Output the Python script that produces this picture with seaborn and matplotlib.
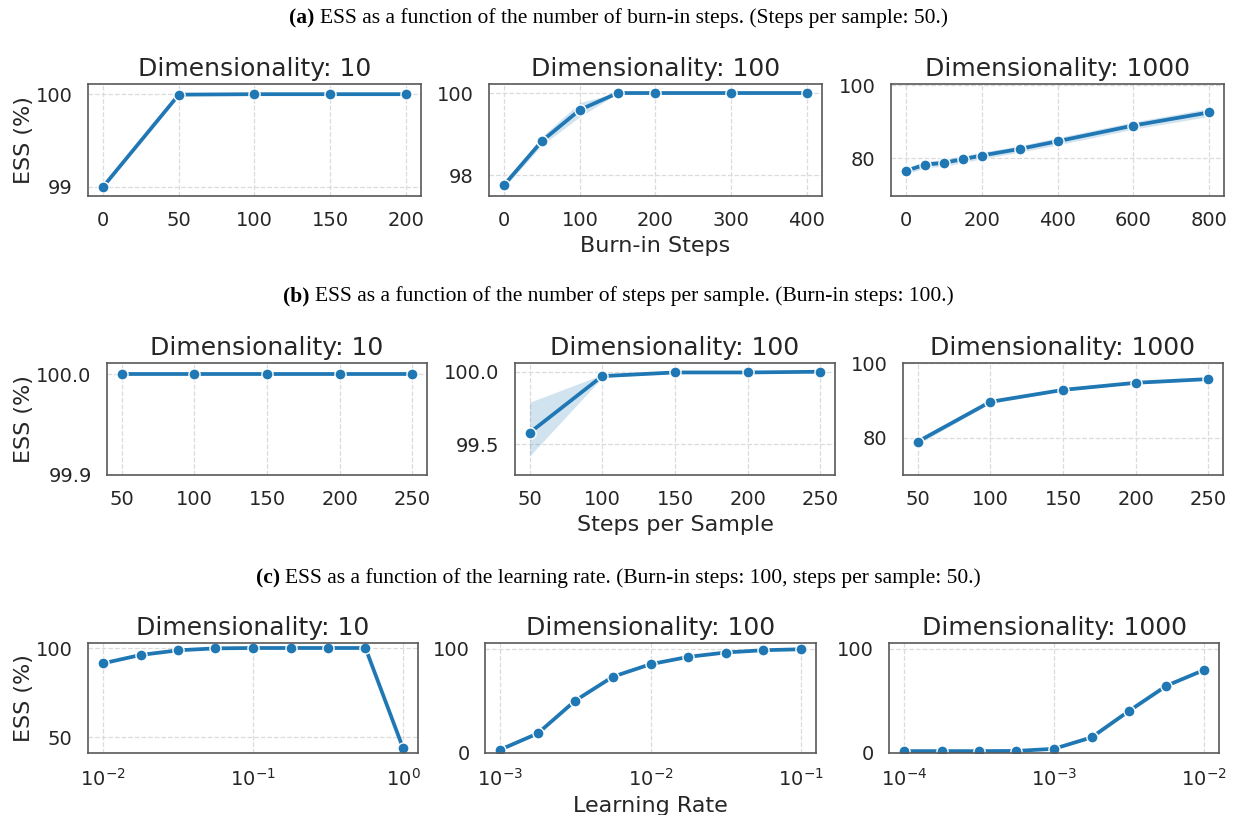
import numpy as np
import pandas as pd
import matplotlib
matplotlib.use("Agg")
import matplotlib.pyplot as plt
import seaborn as sns

# ---------------- data ----------------
# (a) burn-in steps, steps per sample = 50
a10_steps = [0, 50, 100, 150, 200]
a10_ess = [99.0, 99.995, 100.0, 100.0, 100.0]
a10_lo = [99.0, 99.99, 100.0, 100.0, 100.0]
a10_hi = [99.0, 100.0, 100.0, 100.0, 100.0]

a100_steps = [0, 50, 100, 150, 200, 300, 400]
a100_ess = [97.76, 98.83, 99.59, 100.0, 100.0, 100.0, 100.0]
a100_lo = [97.70, 98.73, 99.42, 99.99, 100.0, 100.0, 100.0]
a100_hi = [97.82, 98.94, 99.77, 100.0, 100.0, 100.0, 100.0]

a1000_steps = [0, 50, 100, 150, 200, 300, 400, 600, 800]
a1000_ess = [76.5, 78.2, 78.7, 79.7, 80.7, 82.5, 84.6, 88.9, 92.5]
a1000_lo = [75.6, 77.3, 77.8, 78.7, 79.8, 81.6, 83.6, 87.9, 91.4]
a1000_hi = [77.4, 79.1, 79.6, 80.7, 81.6, 83.4, 85.6, 89.9, 93.6]

# (b) steps per sample, burn-in steps = 100
b_steps = [50, 100, 150, 200, 250]
b10_ess = [100.0, 100.0, 100.0, 100.0, 100.0]
b10_lo = [100.0, 100.0, 100.0, 100.0, 100.0]
b10_hi = [100.0, 100.0, 100.0, 100.0, 100.0]

b100_ess = [99.58, 99.97, 99.995, 99.995, 100.0]
b100_lo = [99.42, 99.96, 99.99, 99.99, 100.0]
b100_hi = [99.79, 99.98, 100.0, 100.0, 100.0]

b1000_ess = [78.9, 89.6, 92.8, 94.7, 95.7]
b1000_lo = [78.2, 89.2, 92.5, 94.4, 95.4]
b1000_hi = [79.6, 90.0, 93.1, 95.0, 96.0]

# (c) learning rate, burn-in steps = 100, steps per sample = 50
c10_lr = [0.01, 0.0178, 0.0316, 0.0562, 0.1, 0.178, 0.316, 0.562, 1.0]
c10_ess = [91.4, 96.1, 98.7, 99.8, 100.0, 100.0, 100.0, 100.0, 44.0]
c10_lo = [91.0, 95.8, 98.5, 99.7, 100.0, 100.0, 100.0, 100.0, 43.5]
c10_hi = [91.8, 96.4, 98.9, 99.9, 100.0, 100.0, 100.0, 100.0, 44.5]

c100_lr = [0.001, 0.00178, 0.00316, 0.00562, 0.01, 0.0178, 0.0316, 0.0562, 0.1]
c100_ess = [3.1, 18.7, 50.1, 73.0, 85.0, 92.0, 96.2, 98.4, 99.3]
c100_lo = [2.8, 18.0, 49.3, 72.3, 84.5, 91.6, 95.9, 98.2, 99.1]
c100_hi = [3.4, 19.4, 50.9, 73.7, 85.5, 92.4, 96.5, 98.6, 99.5]

c1000_lr = [0.0001, 0.000178, 0.000316, 0.000562, 0.001, 0.00178, 0.00316, 0.00562, 0.01]
c1000_ess = [1.8, 1.8, 1.8, 2.0, 4.0, 15.0, 40.3, 64.5, 79.6]
c1000_lo = [1.6, 1.6, 1.6, 1.8, 3.5, 13.5, 38.8, 63.3, 78.8]
c1000_hi = [2.0, 2.0, 2.0, 2.2, 4.5, 16.5, 41.8, 65.7, 80.4]

dims = [10, 100, 1000]
a_xticks = [[0, 50, 100, 150, 200], [0, 100, 200, 300, 400], [0, 200, 400, 600, 800]]
b_xticks = [50, 100, 150, 200, 250]
a_yticks = [[99, 100], [98, 100], [80, 100]]
b_yticks = [[99.9, 100.0], [99.5, 100.0], [80, 100]]
c_yticks = [[50, 100], [0, 100], [0, 100]]

captions = [
    ("(a)", "ESS as a function of the number of burn-in steps. (Steps per sample: 50.)"),
    ("(b)", "ESS as a function of the number of steps per sample. (Burn-in steps: 100.)"),
    ("(c)", "ESS as a function of the learning rate. (Burn-in steps: 100, steps per sample: 50.)"),
]
xlabels = ["Burn-in Steps", "Steps per Sample", "Learning Rate"]

# ---------------- style ----------------
sns.set_theme(style="whitegrid", palette="tab10")
plt.rcParams.update({
    "axes.edgecolor": "0.35",
    "axes.linewidth": 1.2,
    "grid.color": "0.86",
    "grid.linestyle": "--",
    "grid.linewidth": 0.9,
    "xtick.labelsize": 14,
    "ytick.labelsize": 14,
    "axes.labelsize": 16,
    "axes.titlesize": 18,
    "text.color": "0.15",
    "axes.labelcolor": "0.15",
    "xtick.color": "0.15",
    "ytick.color": "0.15",
})

W, H = 1237, 815
fig = plt.figure(figsize=(W / 100, H / 100), dpi=100)
blue = sns.color_palette("tab10")[0]


def add_ax(x0, x1, y0, y1):
    return fig.add_axes([x0 / W, 1 - y1 / H, (x1 - x0) / W, (y1 - y0) / H])


def panel(ax, x, y, lo, hi, dim, ylim, yticks, xticks=None, log=False, yfmt=None):
    df = pd.DataFrame({"x": x, "ess": y})
    ax.fill_between(x, lo, hi, color=blue, alpha=0.2, linewidth=0)
    sns.lineplot(data=df, x="x", y="ess", ax=ax, color=blue, marker="o",
                 linewidth=2.7, markersize=8, markeredgecolor="white",
                 markeredgewidth=1.0)
    if log:
        ax.set_xscale("log")
    elif xticks is not None:
        ax.set_xticks(xticks)
    ax.set_ylim(*ylim)
    ax.set_yticks(yticks)
    if yfmt is not None:
        ax.set_yticklabels([yfmt.format(v) for v in yticks])
    ax.set_title(f"Dimensionality: {dim}", pad=6)
    ax.set_xlabel("")
    ax.set_ylabel("")
    ax.tick_params(axis="both", pad=5)
    for s in ax.spines.values():
        s.set_visible(True)


# row (a)
row_a = [add_ax(88, 421, 84, 196), add_ax(489, 822, 84, 196), add_ax(891, 1224, 84, 196)]
panel(row_a[0], a10_steps, a10_ess, a10_lo, a10_hi, dims[0], (98.9, 100.11), a_yticks[0], a_xticks[0])
panel(row_a[1], a100_steps, a100_ess, a100_lo, a100_hi, dims[1], (97.49, 100.22), a_yticks[1], a_xticks[1])
panel(row_a[2], a1000_steps, a1000_ess, a1000_lo, a1000_hi, dims[2], (69.6, 100.3), a_yticks[2], a_xticks[2])

# row (b)
row_b = [add_ax(107, 427, 363, 475), add_ax(515, 835, 363, 475), add_ax(903, 1223, 363, 475)]
panel(row_b[0], b_steps, b10_ess, b10_lo, b10_hi, dims[0], (99.9, 100.011), b_yticks[0], b_xticks, yfmt="{:.1f}")
panel(row_b[1], b_steps, b100_ess, b100_lo, b100_hi, dims[1], (99.29, 100.06), b_yticks[1], b_xticks, yfmt="{:.1f}")
panel(row_b[2], b_steps, b1000_ess, b1000_lo, b1000_hi, dims[2], (70.0, 100.0), b_yticks[2], b_xticks)

# row (c)
row_c = [add_ax(88, 418, 643, 753), add_ax(485, 816, 643, 753), add_ax(889, 1219, 643, 753)]
panel(row_c[0], c10_lr, c10_ess, c10_lo, c10_hi, dims[0], (41.2, 102.8), c_yticks[0], log=True)
panel(row_c[1], c100_lr, c100_ess, c100_lo, c100_hi, dims[1], (0.0, 105.3), c_yticks[1], log=True)
panel(row_c[2], c1000_lr, c1000_ess, c1000_lo, c1000_hi, dims[2], (0.0, 105.5), c_yticks[2], log=True)

for row, label in zip([row_a, row_b, row_c], xlabels):
    ax0 = row[0]
    ax0.set_ylabel("ESS (%)")
    # shared left position for the y labels of all three rows
    pos = ax0.get_position()
    ax0.yaxis.set_label_coords((34 / W - pos.x0) / pos.width, 0.5)
    row[1].set_xlabel(label)

# captions: bold panel letter followed by regular text, centred as one line
renderer = fig.canvas.get_renderer()
cap_y = [18, 296, 578]
serif = ["Liberation Serif", "DejaVu Serif"]
for (tag, text), yc in zip(captions, cap_y):
    t1 = fig.text(0, 1 - yc / H, tag + " ", fontsize=15.5, fontweight="bold",
                  family=serif, va="center", ha="left", color="black")
    t2 = fig.text(0, 1 - yc / H, text, fontsize=15.5, family=serif,
                  va="center", ha="left", color="black")
    w1 = t1.get_window_extent(renderer).width
    w2 = t2.get_window_extent(renderer).width
    x0 = (W - (w1 + w2)) / 2
    t1.set_x(x0 / W)
    t2.set_x((x0 + w1) / W)

fig.savefig("out.png", dpi=100)
